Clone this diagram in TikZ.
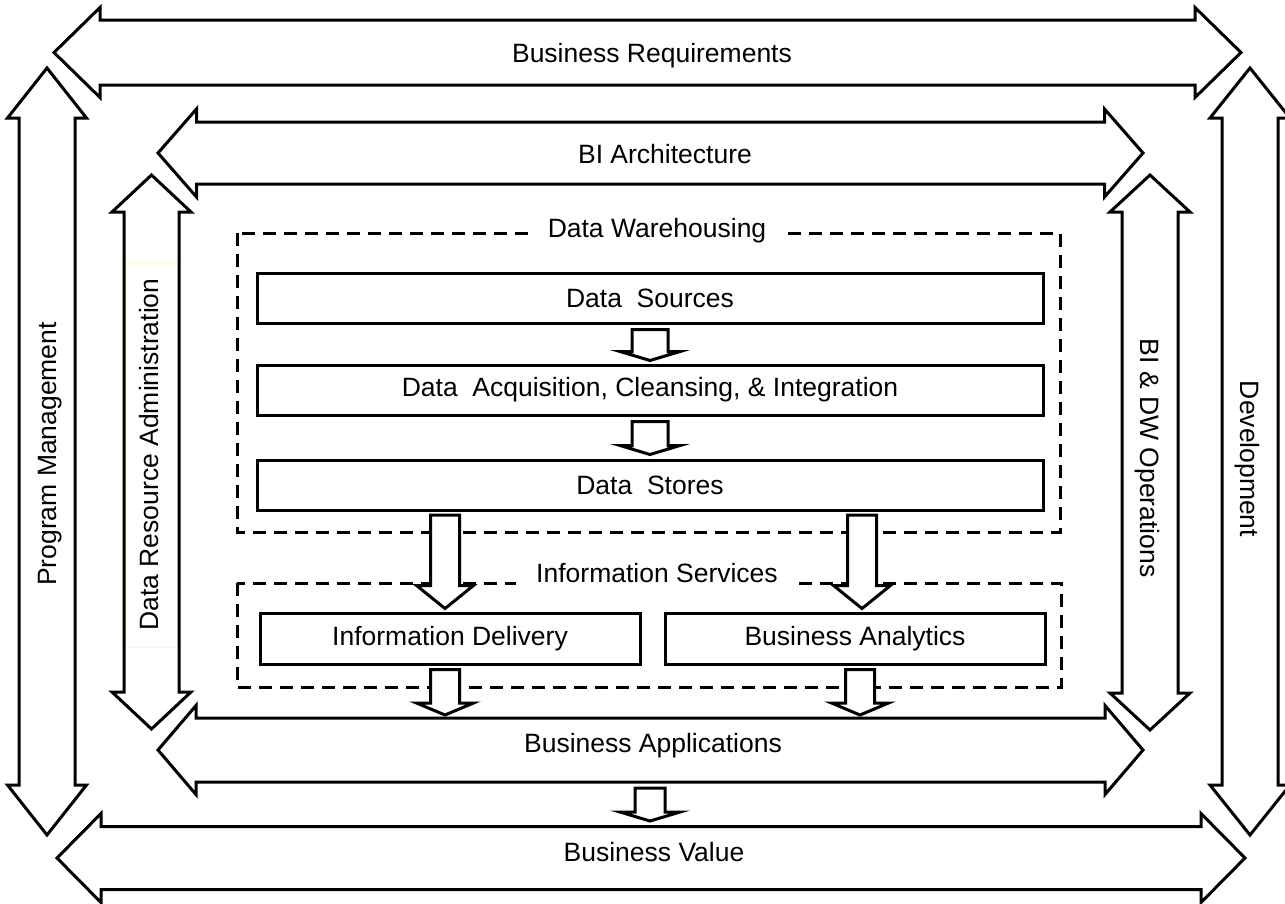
\documentclass[tikz,border=0pt]{standalone}
\usepackage{fontspec}
\setmainfont{Liberation Sans}
\usetikzlibrary{calc}
\tikzset{frame/.style={draw,line width=3pt,line join=miter}}
\tikzset{blk/.style={draw,line width=3pt,fill=white,line join=miter}}
\tikzset{box/.style={draw,line width=3pt,minimum height=50pt,inner sep=0pt}}
\tikzset{dbox/.style={draw,line width=3pt,dash pattern=on 13pt off 8pt}}
\tikzset{dlabel/.style={fill=white,inner xsep=20pt,inner ysep=3pt,anchor=base}}
\tikzset{lbl/.style={anchor=base,inner sep=0pt}}

% horizontal double arrow: left tip, right tip, y, shaft half, head half, head length
\newcommand{\hframe}[6]{%
  \draw[frame] (#1,#3) -- (#1+#6,#3-#5) -- (#1+#6,#3-#4) -- (#2-#6,#3-#4) -- (#2-#6,#3-#5)
    -- (#2,#3) -- (#2-#6,#3+#5) -- (#2-#6,#3+#4) -- (#1+#6,#3+#4) -- (#1+#6,#3+#5) -- cycle;}
% vertical double arrow: x, top tip, bottom tip, shaft half, head half, head length
\newcommand{\vframe}[6]{%
  \draw[frame] (#1,#2) -- (#1+#5,#2+#6) -- (#1+#4,#2+#6) -- (#1+#4,#3-#6) -- (#1+#5,#3-#6)
    -- (#1,#3) -- (#1-#5,#3-#6) -- (#1-#4,#3-#6) -- (#1-#4,#2+#6) -- (#1-#5,#2+#6) -- cycle;}
% hollow block arrow pointing down: from, to, shaft half, head half, head length
\newcommand{\blkarrow}[5]{%
  \draw[blk] let \p1=#1, \p2=#2 in (\x2-#3,\y1) -- (\x2+#3,\y1) -- (\x2+#3,\y2+#5)
    -- (\x2+#4,\y2+#5) -- (\x2,\y2) -- (\x2-#4,\y2+#5) -- (\x2-#3,\y2+#5) -- cycle;}

\begin{document}
\begin{tikzpicture}[x=1pt,y=-1pt,every node/.style={font=\fontsize{26.5}{31}\selectfont}]
  \useasboundingbox (0,0) rectangle (1285,903);

  % outer frame
  \hframe{54}{1241}{52.5}{32.5}{45}{46}
  \hframe{57}{1245}{858}{31.5}{44.5}{44}
  \vframe{47}{68}{835}{28}{39.5}{50}
  \vframe{1250}{68}{835}{28}{40}{50}
  \node[lbl] (breq) at (652,62) {Business Requirements};
  \node[lbl] (bval) at (654,861) {Business Value};
  \node[lbl,rotate=90] (pm) at (56.5,454) {Program Management};
  \node[lbl,rotate=-90] (dev) at (1240.5,459) {Development};

  % inner frame
  \node[draw=yellow!25,line width=0.8pt,rotate=90,minimum width=385pt,minimum height=55pt,
    inner sep=0pt] (dra) at (149.5,454.5) {Data Resource Administration};
  \hframe{158}{1143}{153}{31}{44}{38.5}
  \hframe{158}{1143}{750}{32}{44.5}{38}
  \vframe{151.5}{175}{729}{27.5}{39.5}{37}
  \vframe{1150}{175}{730}{28}{40}{37}
  \node[lbl] (bia) at (665,163) {BI Architecture};
  \node[lbl] (bapp) at (653,752) {Business Applications};
  \node[lbl,rotate=-90] (ops) at (1140.5,458) {BI \& DW Operations};

  % data warehousing
  \draw[dbox] (237,233) rectangle (1060,532);
  \node[dlabel] (dw) at (657,237) {Data Warehousing};
  \node[box,minimum width=786pt] (ds) at (650,298) {Data~ Sources};
  \node[box,minimum width=786pt] (da) at (650,390) {Data~ Acquisition, Cleansing, \& Integration};
  \node[box,minimum width=786pt] (dst) at (650,485.5) {Data~ Stores};

  % information services
  \draw[dbox] (237,583) rectangle (1061,687);
  \node[dlabel] (is) at (657,582) {Information Services};
  \node[box,minimum width=380pt,minimum height=51pt] (idl) at (450,638.5) {Information Delivery};
  \node[box,minimum width=380pt,minimum height=51pt] (ban) at (855,638.5) {Business Analytics};

  \coordinate (t1) at (445,715);
  \coordinate (t2) at (860,715);
  \coordinate (s3) at (650,788);
  \coordinate (t3) at (650,821);

  \blkarrow{([yshift=-5pt]ds.south)}{([yshift=3pt]da.north)}{18pt}{30pt}{9pt}
  \blkarrow{([yshift=-5pt]da.south)}{([yshift=4.5pt]dst.north)}{18pt}{30pt}{9pt}
  \blkarrow{([yshift=-3pt]dst.south)}{([xshift=-5pt,yshift=3pt]idl.north)}{14.5pt}{28.5pt}{23pt}
  \blkarrow{([yshift=-3pt]dst.south)}{([xshift=7pt,yshift=3pt]ban.north)}{14.5pt}{28.5pt}{23pt}
  \blkarrow{([yshift=-4pt]idl.south)}{(t1)}{14.5pt}{28.5pt}{12pt}
  \blkarrow{([yshift=-4pt]ban.south)}{(t2)}{14.5pt}{28.5pt}{12pt}
  \blkarrow{(s3)}{(t3)}{15pt}{30pt}{9pt}
\end{tikzpicture}
\end{document}
